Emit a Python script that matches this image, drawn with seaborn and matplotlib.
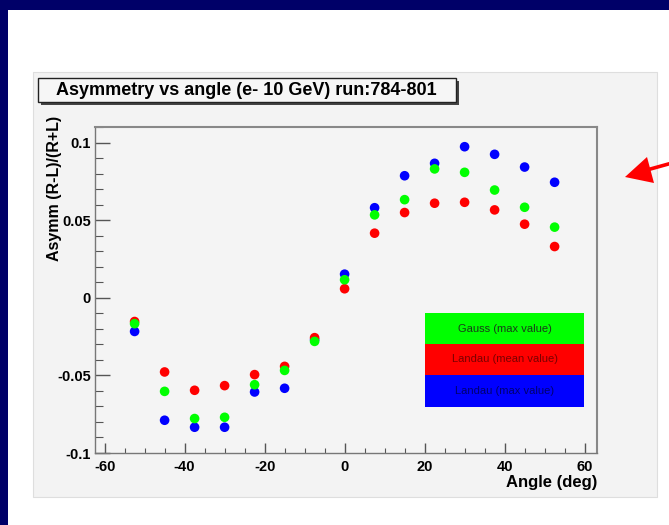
import numpy as np
import pandas as pd
import matplotlib
matplotlib.use("Agg")
import matplotlib.pyplot as plt
import seaborn as sns
from matplotlib.patches import Rectangle, Polygon
from matplotlib.lines import Line2D
from matplotlib.ticker import MultipleLocator

# ---------------- data ----------------
angles = [-52.5, -45, -37.5, -30, -22.5, -15, -7.5, 0, 7.5, 15, 22.5, 30, 37.5, 45, 52.5]
gauss_max = [-0.0167, -0.0603, -0.0778, -0.0770, -0.0560, -0.0468, -0.0281, 0.0116,
             0.0534, 0.0632, 0.0830, 0.0808, 0.0694, 0.0583, 0.0455]
landau_mean = [-0.0153, -0.0478, -0.0596, -0.0566, -0.0495, -0.0442, -0.0257, 0.0058,
               0.0416, 0.0549, 0.0609, 0.0615, 0.0566, 0.0474, 0.0330]
landau_max = [-0.0217, -0.0789, -0.0834, -0.0834, -0.0607, -0.0583, -0.0270, 0.0152,
              0.0580, 0.0786, 0.0866, 0.0973, 0.0924, 0.0842, 0.0744]
series_names = ["Gauss (max value)", "Landau (mean value)", "Landau (max value)"]
series_colors = ["#00ff00", "#ff0000", "#0000ff"]
legend_text_colors = ["#1a3a1a", "#7a0000", "#00006e"]
x_ticks = [-60, -40, -20, 0, 20, 40, 60]
y_ticks = [-0.1, -0.05, 0, 0.05, 0.1]
y_tick_labels = ["-0.1", "-0.05", "0", "0.05", "0.1"]
title = "Asymmetry vs angle (e- 10 GeV) run:784-801"
xlabel = "Angle (deg)"
ylabel = "Asymm (R-L)/(R+L)"

# draw order: blue, red, green (green on top)
df = pd.concat([
    pd.DataFrame({"angle": angles, "asym": landau_max, "series": series_names[2]}),
    pd.DataFrame({"angle": angles, "asym": landau_mean, "series": series_names[1]}),
    pd.DataFrame({"angle": angles, "asym": gauss_max, "series": series_names[0]}),
], ignore_index=True)

plt.rcParams["font.family"] = ["Liberation Sans", "DejaVu Sans"]

W, H = 669, 525
fig = plt.figure(figsize=(W / 100, H / 100), dpi=100)
fig.patch.set_facecolor("white")


def fx(x):
    return x / W


def fy(y):
    return 1 - y / H


def rect_px(x0, y0, x1, y1, **kw):
    r = Rectangle((fx(x0), fy(y1)), fx(x1) - fx(x0), fy(y0) - fy(y1),
                  transform=fig.transFigure, **kw)
    fig.add_artist(r)
    return r


# navy slide border
rect_px(0, 0, W, 10, facecolor="#000068", edgecolor="none", zorder=0)
rect_px(0, 0, 8, H, facecolor="#000068", edgecolor="none", zorder=0)
# ROOT canvas
rect_px(33, 72, 657, 497, facecolor="#f3f3f3", edgecolor="#dedede", linewidth=0.8, zorder=0)

# axes
ax = fig.add_axes([fx(95), fy(453), fx(597) - fx(95), fy(127) - fy(453)])
ax.set_facecolor("#f4f4f4")

palette = {series_names[i]: series_colors[i] for i in range(3)}
sns.scatterplot(data=df, x="angle", y="asym", hue="series", palette=palette,
                s=48, linewidth=0, edgecolor="none", legend=False, ax=ax, zorder=3)

ax.set_xlim(-62.4, 63.1)
ax.set_ylim(-0.1, 0.11)
ax.set_xticks(x_ticks)
ax.set_xticklabels([str(t) for t in x_ticks])
ax.set_yticks(y_ticks)
ax.set_yticklabels(y_tick_labels)
ax.xaxis.set_minor_locator(MultipleLocator(5))
ax.yaxis.set_minor_locator(MultipleLocator(0.01))
ax.tick_params(axis="y", which="major", direction="in", length=11, width=1.0, color="#555555",
               labelsize=10.5, pad=3)
ax.tick_params(axis="y", which="minor", direction="in", length=5.5, width=0.8, color="#555555")
ax.tick_params(axis="x", which="major", direction="in", length=7, width=1.0, color="#555555",
               labelsize=10.5, pad=5)
ax.tick_params(axis="x", which="minor", direction="in", length=3.5, width=0.8, color="#555555")
for lab in ax.get_xticklabels() + ax.get_yticklabels():
    lab.set_fontweight("bold")
for side in ["left", "bottom"]:
    ax.spines[side].set_color("#777777")
    ax.spines[side].set_linewidth(1.0)
for side in ["top", "right"]:
    ax.spines[side].set_color("#888888")
    ax.spines[side].set_linewidth(1.5)
ax.set_xlabel("")
ax.set_ylabel("")

# axis titles (ROOT style)
fig.text(fx(597), fy(482), xlabel, ha="right", va="center", fontsize=12, fontweight="bold")
fig.text(fx(55), fy(116), ylabel, ha="center", va="top", rotation=90, fontsize=11.5,
         fontweight="bold")

# title box with shadow
rect_px(41, 81, 459, 105, facecolor="#444444", edgecolor="none", zorder=1)
rect_px(38, 78, 456, 102, facecolor="#f6f6f6", edgecolor="#222222", linewidth=1.0, zorder=2)
fig.text(fx(246), fy(90.5), title, ha="center", va="center", fontsize=13, fontweight="bold",
         zorder=3)

# legend boxes
rows = [(313, 344), (344, 375), (375, 407)]
for i, (y0, y1) in enumerate(rows):
    rect_px(425, y0, 584, y1, facecolor=series_colors[i], edgecolor="none", zorder=4)
    fig.text(fx(504.5), fy((y0 + y1) / 2), series_names[i], ha="center", va="center",
             fontsize=8, color=legend_text_colors[i], zorder=5)

# red arrow
fig.add_artist(Line2D([fx(645), fx(672)], [fy(170.5), fy(163)], transform=fig.transFigure,
                      color="#ff0000", linewidth=2.6, solid_capstyle="butt", zorder=6))
fig.add_artist(Polygon([[fx(625), fy(177)], [fx(647), fy(157)], [fx(654), fy(183)]],
                       closed=True, transform=fig.transFigure, facecolor="#ff0000",
                       edgecolor="none", zorder=6))

fig.savefig("out.png", dpi=100)
